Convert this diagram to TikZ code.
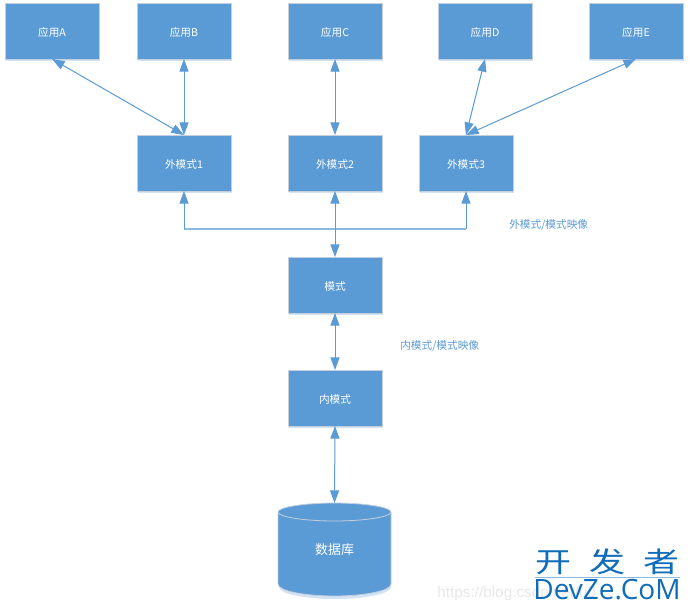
\documentclass[tikz,border=0pt]{standalone}
\usepackage{fontspec}
\usepackage{graphicx}
\setmainfont{Noto Sans CJK SC}
\newfontfamily\latinmark{Open Sans}
\newfontfamily\wmfont{Liberation Sans}
\usetikzlibrary{arrows.meta,calc}
\definecolor{boxblue}{HTML}{5B9BD5}
\definecolor{boxedge}{HTML}{C3CFDC}
\definecolor{shade}{HTML}{D3E3F3}
\definecolor{busblue}{HTML}{8DB9E2}
\definecolor{markblue}{HTML}{0F6CBA}
\tikzset{
  x=0.75pt,y=-0.75pt,
  box/.style={draw=boxedge,fill=boxblue,line width=0.6pt,text=white,font=\fontsize{8}{9}\selectfont,
    text height=8pt,text depth=0.5pt,
    minimum width=70.5pt,minimum height=42pt,inner sep=0pt,outer sep=0pt,
    preaction={draw=none,fill=shade,transform canvas={xshift=0.5pt,yshift=-1.8pt}}},
  link/.style={draw=boxblue,line width=0.75pt,{Triangle[length=9.5pt,width=6.8pt]}-{Triangle[length=9.5pt,width=6.8pt]}},
  uplink/.style={draw=boxblue,line width=0.75pt,-{Triangle[length=9.5pt,width=6.8pt]}},
  note/.style={text=boxblue,font=\fontsize{8}{9}\selectfont,inner sep=0pt},
}
\begin{document}
\begin{tikzpicture}
\useasboundingbox (0,0) rectangle (690,612);
\fill[white] (0,0) rectangle (690,612);
\node[box] (a) at (52,31) {应用A};
\node[box] (b) at (184,31) {应用B};
\node[box] (c) at (335,31) {应用C};
\node[box] (d) at (485,31) {应用D};
\node[box] (e) at (636,31) {应用E};
\node[box] (x1) at (184,163) {外模式1};
\node[box] (x2) at (335,163) {外模式2};
\node[box] (x3) at (466,163) {外模式3};
\node[box] (m) at (335,285) {模式};
\node[box] (n) at (335,398) {内模式};
% cylinder
\path[fill=shade] (279,516) -- (279,587) .. controls (279,594) and (305,599) .. (334.5,599) .. controls (364,599) and (391,594) .. (391,587) -- (391,516) -- cycle;
\path[fill=boxblue,draw=boxedge,line width=0.6pt] (278,512) -- (278,584) .. controls (278,591) and (305,596) .. (334.5,596) .. controls (364,596) and (391,591) .. (391,584) -- (391,512) .. controls (391,507) and (364,503) .. (334.5,503) .. controls (305,503) and (278,507) .. (278,512) -- cycle;
\draw[boxedge,line width=0.6pt] (278,512) .. controls (278,517) and (305,521) .. (334.5,521) .. controls (364,521) and (391,517) .. (391,512);
\node[inner sep=0pt,outer sep=0pt,minimum width=84.75pt,minimum height=69.75pt,text=white,font=\fontsize{9.75}{11}\selectfont] (db) at (334.5,549.5) {数据库};
% connectors
\draw[link] (a.south) -- (x1.north);
\draw[link] (b.south) -- (x1.north);
\draw[link] (c.south) -- (x2.north);
\draw[link] (d.south) -- (x3.north);
\draw[link] (e.south) -- (x3.north);
\coordinate (busl) at (184,229);
\coordinate (busr) at (466,229);
\draw[draw=busblue,line width=1pt] (busl) -- (busr);
\draw[uplink] (busl) -- (x1.south);
\draw[uplink] (busr) -- (x3.south);
\draw[link] (x2.south) -- (m.north);
\draw[link] (m.south) -- (n.north);
\draw[link] (n.south) -- (db.north);
\node[note,anchor=west] (t1) at (509,225) {外模式/模式映像};
\node[note,anchor=west] (t2) at (400,345.5) {内模式/模式映像};
% watermark
\node[text=black!9,anchor=west,inner sep=0pt,font=\wmfont\fontsize{11.5}{13}\selectfont] (w0) at (437,594) {https://blog.csdn.net/u0};
\node[text=markblue,inner sep=0pt,anchor=center,font=\fontsize{27}{30}\selectfont] (w1) at (607,561.5) {\scalebox{1}[0.78]{开\hspace{13.5pt}发\hspace{13.5pt}者}};
\draw[draw=boxblue!70,line width=0.5pt] (535,577.5) -- (680,577.5);
\node[text=markblue,inner sep=0pt,anchor=center,font=\latinmark\fontsize{21}{25}\selectfont] (w2) at (607,590) {DevZe.CoM};
\end{tikzpicture}
\end{document}
